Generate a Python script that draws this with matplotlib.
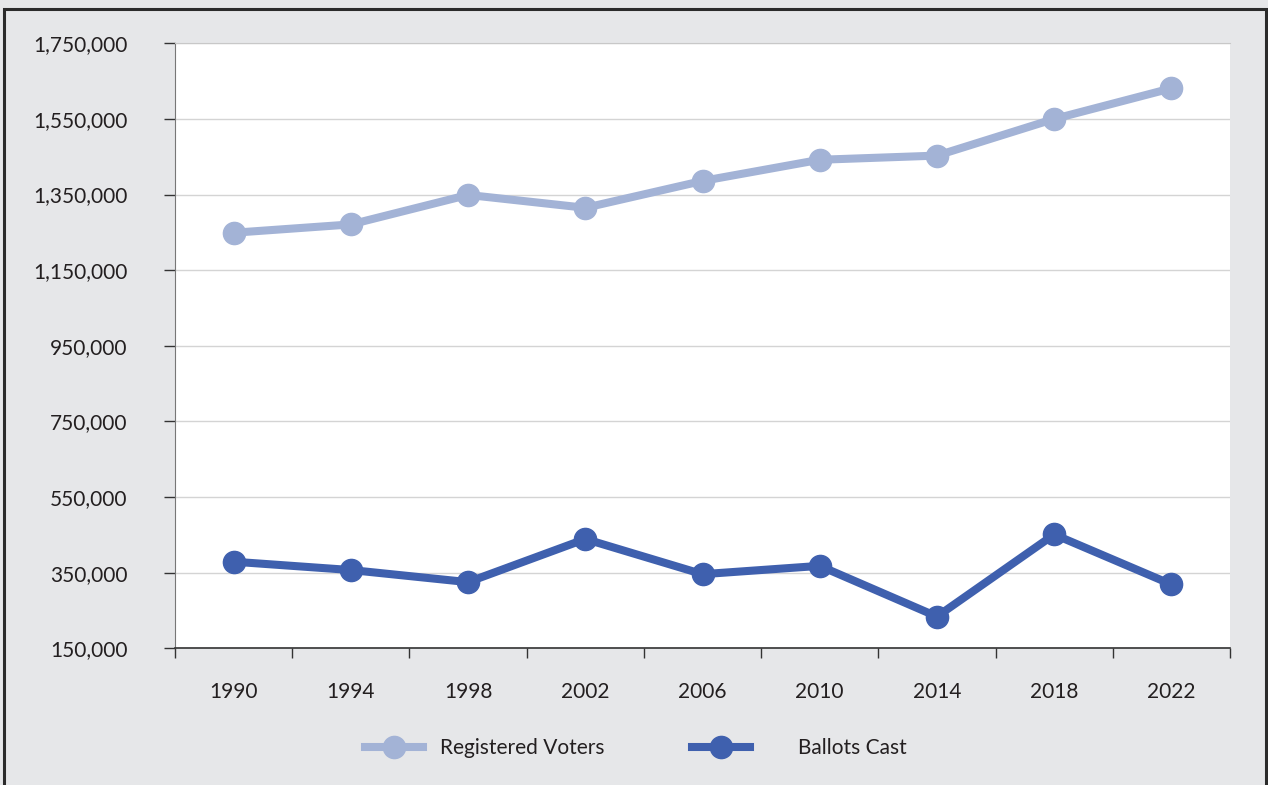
import matplotlib
matplotlib.use("Agg")
import matplotlib.pyplot as plt
from matplotlib.lines import Line2D
from matplotlib.patches import Rectangle
from matplotlib.ticker import FuncFormatter, FixedLocator

years = ["1990", "1994", "1998", "2002", "2006", "2010", "2014", "2018", "2022"]
registered_voters = [1249000, 1271000, 1349000, 1315000, 1386000, 1442000, 1453000, 1550000, 1631000]
ballots_cast = [379000, 357000, 325000, 439000, 346000, 368000, 234000, 451000, 319000]
y_ticks = [150000, 350000, 550000, 750000, 950000, 1150000, 1350000, 1550000, 1750000]

light = "#A3B3D6"
dark = "#3F60AE"
bg = "#E6E7E9"
font = "Lato"
fs = 15

fig = plt.figure(figsize=(12.68, 7.85), dpi=100, facecolor=bg)
ax = fig.add_axes([175/1268, 1-648.3/785, (1230-175)/1268, (648.3-43.3)/785])
ax.set_facecolor("white")

x = list(range(len(years)))
ax.plot(x, registered_voters, color=light, lw=5.8, marker="o", ms=16, zorder=3,
        solid_joinstyle="round")
ax.plot(x, ballots_cast, color=dark, lw=5.8, marker="o", ms=16, zorder=3,
        solid_joinstyle="round")

ax.set_xlim(-0.5, len(years) - 0.5)
ax.set_ylim(150000, 1750000)
ax.yaxis.set_major_locator(FixedLocator(y_ticks))
ax.yaxis.set_major_formatter(FuncFormatter(lambda v, p: f"{int(v):,}"))
ax.grid(axis="y", color="#D4D4D4", lw=1.0, zorder=0)

# x ticks at category boundaries, labels at centers
ax.set_xticks([i - 0.5 for i in range(len(years) + 1)])
ax.set_xticklabels([])
ax.set_xticks(x, minor=True)
ax.set_xticklabels(years, minor=True)
ax.tick_params(axis="x", which="major", length=7, width=1.0, color="#333333", direction="out")
ax.tick_params(axis="x", which="minor", length=0, pad=24, labelsize=fs, labelcolor="#231F20")
ax.tick_params(axis="y", length=8, width=1.0, color="#333333", pad=26, labelsize=fs,
               labelcolor="#231F20")
for lab in ax.get_xticklabels(minor=True) + ax.get_yticklabels():
    lab.set_fontfamily(font)

ax.spines["right"].set_visible(False)
ax.spines["top"].set_color("#C8C8C8")
ax.spines["left"].set_color("#777777")
ax.spines["bottom"].set_color("#333333")
ax.spines["bottom"].set_linewidth(1.2)

# legend
h1 = Line2D([], [], color=light, lw=5.8, marker="o", ms=16)
h2 = Line2D([], [], color=dark, lw=5.8, marker="o", ms=16)
leg1 = fig.legend([h1], ["Registered Voters"], loc="center left",
                  bbox_to_anchor=(346/1268, 1-748/785), frameon=False,
                  handlelength=2.8, handletextpad=0.8,
                  prop={"family": font, "size": fs})
leg2 = fig.legend([h2], ["Ballots Cast"], loc="center left",
                  bbox_to_anchor=(673/1268, 1-748/785), frameon=False,
                  handlelength=2.8, handletextpad=2.3,
                  prop={"family": font, "size": fs})
for lg in (leg1, leg2):
    for t in lg.get_texts():
        t.set_color("#231F20")

# outer border
fig.add_artist(Rectangle((4/1268, -0.05), (1266-4)/1268, 1.05 - 9/785,
                         transform=fig.transFigure, fill=False,
                         edgecolor="#2B2B2B", lw=2.2))

fig.savefig("out.png", dpi=100, facecolor=bg)
